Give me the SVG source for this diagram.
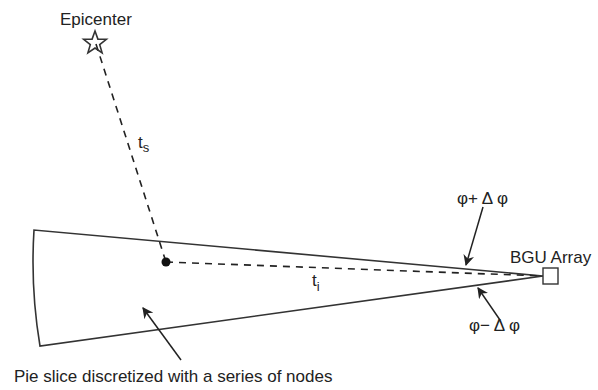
<svg xmlns="http://www.w3.org/2000/svg" width="598" height="390" viewBox="0 0 598 390">
  <defs>
    <marker id="head" viewBox="0 0 10 10" refX="9" refY="5" markerWidth="11" markerHeight="11" markerUnits="userSpaceOnUse" orient="auto">
      <path d="M0,0 L10,5 L0,10 L3,5 Z" fill="#222"/>
    </marker>
  </defs>
  <style>
    .line { fill: none; stroke: #333; stroke-width: 1.6; }
    .dash { fill: none; stroke: #222; stroke-width: 1.6; stroke-dasharray: 7 6; }
    .ptr { fill: none; stroke: #222; stroke-width: 1.5; marker-end: url(#head); }
    .lbl { font-family: "Liberation Sans", Arial, sans-serif; font-size: 17px; fill: #222; }
    .sub { font-size: 13px; fill: #222; }
  </style>
  <rect width="598" height="390" fill="#fff"/>

  <!-- pie slice fanning out from the array -->
  <g id="slice">
    <path class="line" d="M543,276 L34,230 A511,511 0 0 0 40,346 Z"/>
  </g>

  <g id="connectors">
    <path class="dash" d="M96,44 L166,262"/>
    <path class="dash" d="M166,262 L543,276"/>
    <path class="ptr" d="M483,207 L466,265"/>
    <path class="ptr" d="M500,320 L478,288"/>
    <path class="ptr" d="M181,360 L143,308"/>
  </g>

  <g id="epicenter">
    <polygon class="line" points="95,31 97.9,39.1 106.4,39.3 99.7,44.6 102.1,52.9 95,48 87.9,52.9 90.3,44.6 83.6,39.3 92.1,39.1"/>
    <text class="lbl" x="60" y="25">Epicenter</text>
  </g>

  <g id="node">
    <circle cx="166" cy="262" r="4.5" fill="#111"/>
  </g>

  <g id="bgu-array">
    <rect x="543" y="268" width="15" height="16" fill="#fff" stroke="#333" stroke-width="1.4"/>
    <text class="lbl" x="510" y="263">BGU Array</text>
  </g>

  <text class="lbl" x="138" y="148">t<tspan class="sub" dy="4">s</tspan></text>
  <text class="lbl" x="312" y="286">t<tspan class="sub" dy="5">i</tspan></text>
  <text class="lbl" x="457" y="204">φ+ Δ φ</text>
  <text class="lbl" x="469" y="331">φ− Δ φ</text>
  <text class="lbl" x="14" y="382" font-size="16.5">Pie slice discretized with a series of nodes</text>
</svg>
